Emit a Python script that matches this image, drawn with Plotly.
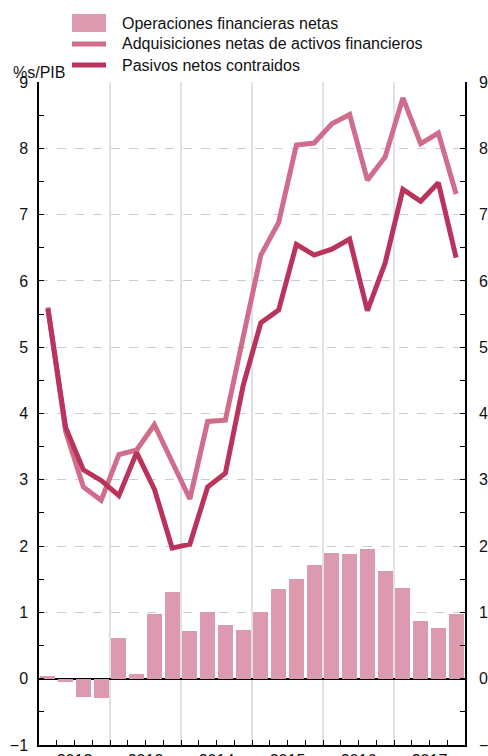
import plotly.graph_objects as go

# trimestres 2012T1 .. 2017T4
years = [2012, 2013, 2014, 2015, 2016, 2017]
quarters = [1, 2, 3, 4]

operaciones = [0.04, -0.05, -0.28, -0.29, 0.61, 0.07, 0.97, 1.31,
               0.72, 1.00, 0.81, 0.74, 1.01, 1.35, 1.50, 1.72,
               1.89, 1.88, 1.96, 1.62, 1.37, 0.87, 0.77, 0.98]
adquisiciones = [5.60, 3.73, 2.89, 2.69, 3.38, 3.45, 3.83, 3.28,
                 2.71, 3.88, 3.90, 5.15, 6.39, 6.88, 8.05, 8.08,
                 8.37, 8.51, 7.52, 7.87, 8.76, 8.07, 8.23, 7.31]
pasivos = [5.58, 3.79, 3.15, 2.99, 2.76, 3.41, 2.86, 1.97,
           2.03, 2.89, 3.10, 4.42, 5.37, 5.56, 6.55, 6.39,
           6.48, 6.63, 5.55, 6.27, 7.38, 7.20, 7.48, 6.35]

names = ["Operaciones financieras netas",
         "Adquisiciones netas de activos financieros",
         "Pasivos netos contraidos"]
c_bar = "#db9aae"
c_adq = "#cf6d8b"
c_pas = "#b9335b"

x = [y + (q - 0.5) / 4 for y in years for q in quarters]

W, H = 488, 756
L, R, T, B = 39, 23, 82, 11
FONT = "Liberation Sans, Arial, sans-serif"


def px(xp, yp):
    # page pixel -> paper coords
    return (xp - L) / (W - L - R), (H - B - yp) / (H - T - B)


fig = go.Figure()
fig.add_trace(go.Bar(x=x, y=operaciones, width=0.21, marker_color=c_bar,
                     marker_line_width=0, name=names[0]))
fig.add_trace(go.Scatter(x=x, y=adquisiciones, mode="lines", name=names[1],
                         line=dict(color=c_adq, width=5)))
fig.add_trace(go.Scatter(x=x, y=pasivos, mode="lines", name=names[2],
                         line=dict(color=c_pas, width=5)))
# same series on the right axis, invisible, so that axis is drawn
fig.add_trace(go.Scatter(x=x, y=pasivos, yaxis="y2", mode="lines",
                         line=dict(width=0), opacity=0, hoverinfo="skip",
                         showlegend=False))

shapes = []
for yr in years[1:]:
    shapes.append(dict(type="line", xref="x", yref="paper", x0=yr, x1=yr,
                       y0=0, y1=1, layer="below",
                       line=dict(color="#c4c4c4", width=1)))

# leyenda manual
rows = [23, 44, 65]
x0, y0 = px(72, 14)
x1, y1 = px(106, 32)
shapes.append(dict(type="rect", xref="paper", yref="paper", x0=x0, x1=x1,
                   y0=y0, y1=y1, fillcolor=c_bar, line_width=0))
for yy, col in [(rows[1], c_adq), (rows[2], c_pas)]:
    a, b = px(72, yy)
    c, _ = px(106, yy)
    shapes.append(dict(type="line", xref="paper", yref="paper", x0=a, x1=c,
                       y0=b, y1=b, line=dict(color=col, width=5)))

annotations = []
for yy, name in zip(rows, names):
    a, b = px(120, yy)
    annotations.append(dict(xref="paper", yref="paper", x=a, y=b, text=name,
                            showarrow=False, xanchor="left", yanchor="middle",
                            font=dict(size=16, color="#111")))
a, b = px(11, 72)
annotations.append(dict(xref="paper", yref="paper", x=a, y=b, text="%s/PIB",
                        showarrow=False, xanchor="left", yanchor="middle",
                        font=dict(size=16, color="#111")))

yax = dict(range=[-1, 9], tickvals=list(range(-1, 10)),
           ticks="inside", ticklen=5, tickcolor="black",
           minor=dict(dtick=0.5, tick0=0, ticks="inside", ticklen=5,
                      tickcolor="black"),
           showline=True, linecolor="black", linewidth=1.5,
           tickfont=dict(size=16, color="#111"), automargin=False)

fig.update_layout(
    width=W, height=H,
    margin=dict(l=L, r=R, t=T, b=B),
    paper_bgcolor="white", plot_bgcolor="white",
    font=dict(family=FONT, color="#111"),
    showlegend=False,
    bargap=0,
    xaxis=dict(range=[2012, 2018], tickvals=[y + 0.5 for y in years],
               ticktext=[str(y) for y in years], ticks="inside", ticklen=5,
               tickcolor="black", showgrid=False, zeroline=False,
               minor=dict(tick0=2012, dtick=0.25, ticks="inside", ticklen=5,
                          tickcolor="black"),
               showline=True, linecolor="black", linewidth=1.5,
               tickfont=dict(size=16, color="#111"), automargin=False),
    yaxis=dict(**yax, showgrid=True, gridcolor="#cccccc", griddash="dash",
               gridwidth=1, zeroline=True, zerolinecolor="black",
               zerolinewidth=1.5, ticklabelstandoff=6),
    yaxis2=dict(**yax, overlaying="y", side="right", anchor="x",
                showgrid=False, zeroline=False, ticklabelstandoff=9),
    shapes=shapes,
    annotations=annotations,
)

# no page margin, so the 488x756 figure fills the window exactly
fig.write_html("out.html", config={"displayModeBar": False},
               post_script="document.body.style.margin='0';"
                           "document.body.style.overflow='hidden';")
